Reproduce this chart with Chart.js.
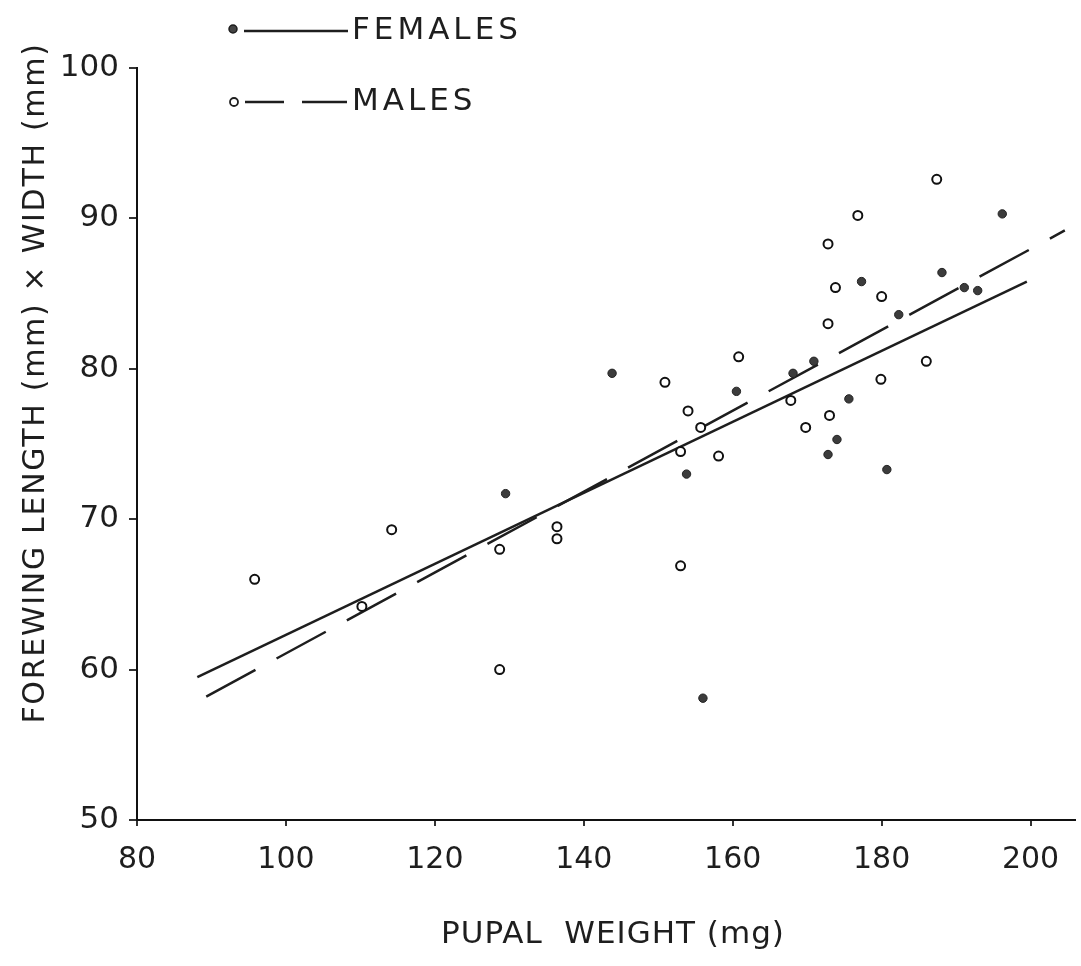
<!DOCTYPE html>
<html lang="en">
<head>
  <meta charset="UTF-8" />
  <title>Forewing size vs pupal weight</title>
  <script src="https://cdn.jsdelivr.net/npm/chart.js"></script>
  <style>
    html, body { margin: 0; padding: 0; background: #fff; }
  </style>
</head>
<body>
  <canvas id="grafico" width="1081" height="966"></canvas>

<script>
  // tick values
  const xTicks = [80, 100, 120, 140, 160, 180, 200];
  const yTicks = [50, 60, 70, 80, 90, 100];

  // females (filled dots)
  const femaleWeight = [129.5, 143.8, 153.8, 156.0, 160.5, 168.1, 170.9, 174.0, 172.8, 175.6, 177.3, 180.7, 182.3, 188.1, 191.1, 192.9, 196.2];
  const femaleSize   = [71.7, 79.7, 73.0, 58.1, 78.5, 79.7, 80.5, 75.3, 74.3, 78.0, 85.8, 73.3, 83.6, 86.4, 85.4, 85.2, 90.3];

  // males (open circles)
  const maleWeight = [95.8, 110.2, 114.2, 128.7, 128.7, 136.4, 136.4, 150.9, 153.0, 153.0, 154.0, 155.7, 158.1, 160.8, 167.8, 169.8, 172.8, 172.8, 173.0, 173.8, 176.8, 179.9, 180.0, 186.0, 187.4];
  const maleSize   = [66.0, 64.2, 69.3, 68.0, 60.0, 69.5, 68.7, 79.1, 74.5, 66.9, 77.2, 76.1, 74.2, 80.8, 77.9, 76.1, 88.3, 83.0, 76.9, 85.4, 90.2, 79.3, 84.8, 80.5, 92.6];

  // fitted lines, end points as drawn
  const femaleFitX = [88.1, 199.5];
  const femaleFitY = [59.5, 85.8];
  const maleFitX = [89.3, 204.6];
  const maleFitY = [58.2, 89.2];

  const toPoints = (xs, ys) => xs.map((x, i) => ({ x: x, y: ys[i] }));

  const ink = "#1e1e1e";
  const fonte = "'DejaVu Sans', sans-serif";

  // legend and axis titles drawn on top
  const textos = {
    id: "textos",
    afterDraw(chart) {
      const ctx = chart.ctx;
      ctx.save();
      ctx.fillStyle = ink;
      ctx.strokeStyle = ink;
      ctx.textBaseline = "middle";

      // legend
      ctx.font = "31px " + fonte;
      ctx.letterSpacing = "4px";
      ctx.textAlign = "left";

      ctx.beginPath();
      ctx.arc(233, 29, 4, 0, Math.PI * 2);
      ctx.fillStyle = "#444";
      ctx.fill();
      ctx.lineWidth = 1.5;
      ctx.stroke();
      ctx.lineWidth = 2.5;
      ctx.beginPath();
      ctx.moveTo(244, 31);
      ctx.lineTo(348, 31);
      ctx.stroke();
      ctx.fillStyle = ink;
      ctx.fillText("FEMALES", 352, 31);

      ctx.beginPath();
      ctx.arc(234, 102, 4, 0, Math.PI * 2);
      ctx.lineWidth = 1.8;
      ctx.stroke();
      ctx.lineWidth = 2.5;
      ctx.beginPath();
      ctx.moveTo(245, 102);
      ctx.lineTo(284, 102);
      ctx.moveTo(302, 102);
      ctx.lineTo(347, 102);
      ctx.stroke();
      ctx.fillText("MALES", 352, 102);

      // x title
      ctx.font = "31px " + fonte;
      ctx.letterSpacing = "1px";
      ctx.textAlign = "center";
      ctx.fillText("PUPAL  WEIGHT (mg)", 613, 935);

      // y title
      ctx.translate(36, 383);
      ctx.rotate(-Math.PI / 2);
      ctx.font = "30px " + fonte;
      ctx.letterSpacing = "1.7px";
      ctx.fillText("FOREWING LENGTH (mm) \u00d7 WIDTH (mm)", 0, 0);
      ctx.restore();
    }
  };

  const ctx = document.getElementById("grafico").getContext("2d");
  new Chart(ctx, {
    type: "scatter",
    data: {
      datasets: [
        {
          label: "FEMALES",
          data: toPoints(femaleWeight, femaleSize),
          pointRadius: 4.2,
          pointBackgroundColor: "#3c3c3c",
          pointBorderColor: "#222",
          pointBorderWidth: 1,
        },
        {
          label: "MALES",
          data: toPoints(maleWeight, maleSize),
          pointRadius: 4.5,
          pointBackgroundColor: "#fff",
          pointBorderColor: "#111",
          pointBorderWidth: 2,
        },
        {
          type: "line",
          label: "females fit",
          data: toPoints(femaleFitX, femaleFitY),
          borderColor: ink,
          borderWidth: 2.5,
          pointRadius: 0,
          fill: false,
        },
        {
          type: "line",
          label: "males fit",
          data: toPoints(maleFitX, maleFitY),
          borderColor: ink,
          borderWidth: 2.5,
          borderDash: [56, 24],
          pointRadius: 0,
          fill: false,
        }
      ]
    },
    options: {
      responsive: false,
      animation: false,
      devicePixelRatio: 1,
      layout: { padding: { top: 68, right: 0, bottom: 0, left: 0 } },
      plugins: {
        legend: { display: false },
        tooltip: { enabled: false }
      },
      scales: {
        x: {
          type: "linear",
          min: 80,
          max: 205.9,
          afterBuildTicks: scale => { scale.ticks = xTicks.map(v => ({ value: v })); },
          afterFit: scale => { scale.height = 146; },
          border: { display: true, color: "#111", width: 2 },
          grid: { drawOnChartArea: false, drawTicks: true, tickLength: 6, color: "#333", lineWidth: 2 },
          ticks: { font: { family: "DejaVu Sans", size: 30 }, color: ink, padding: 16, maxRotation: 0 }
        },
        y: {
          type: "linear",
          min: 50,
          max: 100,
          afterBuildTicks: scale => { scale.ticks = yTicks.map(v => ({ value: v })); },
          afterFit: scale => { scale.width = 137; },
          border: { display: true, color: "#111", width: 2 },
          grid: { drawOnChartArea: false, drawTicks: true, tickLength: 8, color: "#333", lineWidth: 2 },
          ticks: { font: { family: "DejaVu Sans", size: 31 }, color: ink, padding: 10 }
        }
      }
    },
    plugins: [textos]
  });
</script>
</body>
</html>
